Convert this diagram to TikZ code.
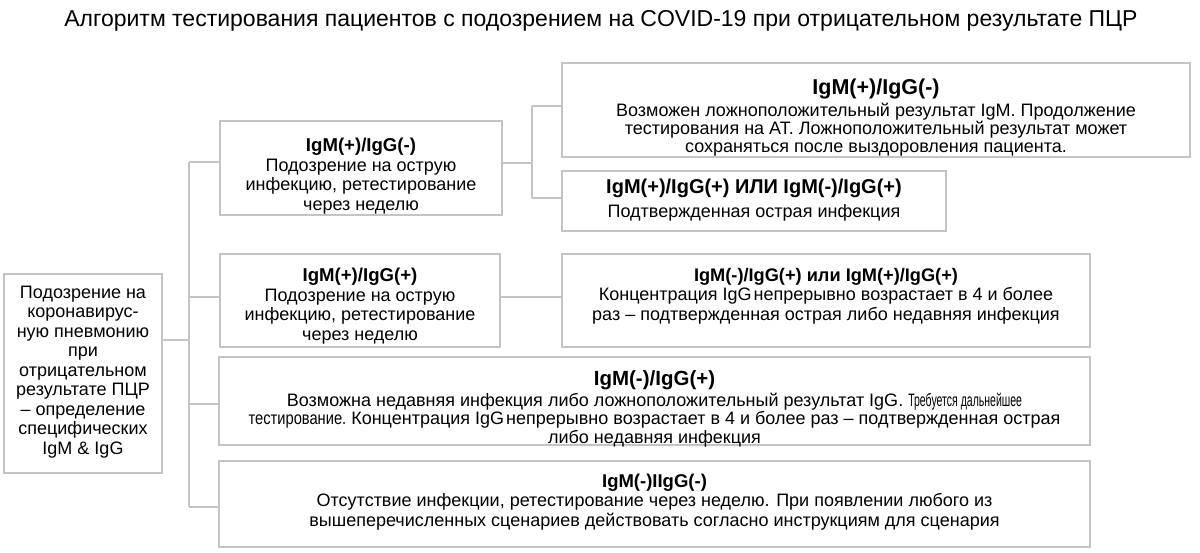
\documentclass[tikz,border=0pt]{standalone}
\usepackage{fontspec}
\usepackage{graphicx}
\setmainfont{Liberation Sans}
\usetikzlibrary{calc}
\definecolor{linegray}{HTML}{C4C4C4}
\newcommand\boxtitle[2]{{\fontsize{#1}{#1}\selectfont\bfseries #2}}
\newcommand\squeezed[2]{\scalebox{#1}[1]{#2}}
\tikzset{
  box/.style={draw=linegray, line width=1.7pt, inner sep=0pt, rectangle},
  txt/.style={align=center, inner sep=0pt, text=black, font=\fontsize{18}{19.5}\selectfont},
  conn/.style={draw=linegray, line width=1.7pt},
}
\begin{document}
\begin{tikzpicture}[x=1pt,y=-1pt]
\useasboundingbox (0,0) rectangle (1200,553);
\fill[white] (0,0) rectangle (1200,553);

\node[font=\fontsize{23}{26}\selectfont, inner sep=0pt] (title) at (601,21)
  {Алгоритм тестирования пациентов с подозрением на COVID-19 при отрицательном результате ПЦР};

% boxes
\node[box, minimum width=158, minimum height=199] (root) at (83,373.5) {};
\node[box, minimum width=282, minimum height=94] (A) at (361,168) {};
\node[box, minimum width=280, minimum height=93] (B) at (360,300.5) {};
\node[box, minimum width=628, minimum height=94] (C) at (876,110) {};
\node[box, minimum width=384, minimum height=60] (D) at (754,201) {};
\node[box, minimum width=528, minimum height=93] (E) at (826,300.5) {};
\node[box, minimum width=871, minimum height=88] (F) at (654.5,401) {};
\node[box, minimum width=871, minimum height=86] (G) at (654.5,504) {};

% texts
\node[txt] (roottext) at (83,372) {Подозрение на\\коронавирус-\\ную пневмонию\\при\\отрицательном\\результате ПЦР\\– определение\\специфических\\IgM \& IgG};
\node[txt] (Atext) at (361,176) {\boxtitle{18.6}{IgM(+)/IgG(-)}\\Подозрение на острую\\инфекцию, ретестирование\\через неделю};
\node[txt] (Btext) at (360,306) {\boxtitle{18.6}{IgM(+)/IgG(+)}\\Подозрение на острую\\инфекцию, ретестирование\\через неделю};
\node[txt, font=\fontsize{18}{18}\selectfont] (Ctext) at (876,118) {\boxtitle{21.5}{IgM(+)/IgG(-)}\\[4pt]Возможен ложноположительный результат IgM. Продолжение\\тестирования на АТ. Ложноположительный результат может\\сохраняться после выздоровления пациента.};
\node[txt] (Dtext) at (754,200) {\boxtitle{20}{IgM(+)/IgG(+) ИЛИ IgM(-)/IgG(+)}\\[4pt]Подтвержденная острая инфекция};
\node[txt] (Etext) at (826,296) {\boxtitle{18.2}{IgM(-)/IgG(+) или IgM(+)/IgG(+)}\\Концентрация IgG\hspace{2pt}непрерывно возрастает в 4 и более\\раз – подтвержденная острая либо недавняя инфекция};
\node[txt, font=\fontsize{18}{18.5}\selectfont] (Ftext) at (654.5,409) {\boxtitle{20.5}{IgM(-)/IgG(+)}\\[2pt]Возможна недавняя инфекция либо ложноположительный результат IgG. \squeezed{0.585}{Требуется дальнейшее}\\\squeezed{0.816}{тестирование.} Концентрация IgG\hspace{2pt}непрерывно возрастает в 4 и более раз – подтвержденная острая\\либо недавняя инфекция};
\node[txt] (Gtext) at (654.5,502) {\boxtitle{18.5}{IgM(-)IIgG(-)}\\Отсутствие инфекции, ретестирование через неделю. При появлении любого из\\вышеперечисленных сценариев действовать согласно инструкциям для сценария};

% connectors
\coordinate (j0) at (189,340);
\coordinate (jA) at (189,162);
\coordinate (jB) at (189,297);
\coordinate (jF) at (189,404);
\coordinate (jG) at (189,507);
\draw[conn] (root.east |- j0) -- (j0);
\draw[conn] (jA) -- (jG);
\draw[conn] (jA) -- (jA -| A.west);
\draw[conn] (jB) -- (jB -| B.west);
\draw[conn] (jF) -- (jF -| F.west);
\draw[conn] (jG) -- (jG -| G.west);

\coordinate (kA) at (532,163);
\coordinate (kC) at (532,106);
\coordinate (kD) at (532,198);
\draw[conn] (A.east |- kA) -- (kA);
\draw[conn] (kC) -- (kD);
\draw[conn] (kC) -- (kC -| C.west);
\draw[conn] (kD) -- (kD -| D.west);

\coordinate (kE) at (530,297);
\draw[conn] (B.east |- kE) -- (kE -| E.west);
\end{tikzpicture}
\end{document}
